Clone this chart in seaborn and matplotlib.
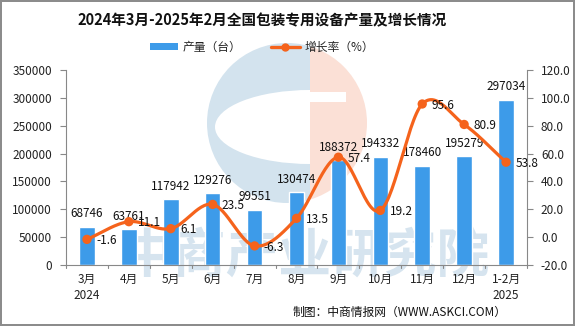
import numpy as np
import pandas as pd
import matplotlib
matplotlib.use("Agg")
import matplotlib.pyplot as plt
from matplotlib.patches import Circle, Ellipse, Rectangle
from matplotlib.lines import Line2D
import seaborn as sns

# Monthly output of packaging machinery and year-on-year growth
months = ["3月\n2024", "4月", "5月", "6月", "7月", "8月", "9月", "10月", "11月", "12月", "1-2月\n2025"]
output_units = [68746, 63761, 117942, 129276, 99551, 130474, 188372, 194332, 178460, 195279, 297034]
growth_pct = [-1.6, 11.1, 6.1, 23.5, -6.3, 13.5, 57.4, 19.2, 95.6, 80.9, 53.8]
left_ticks = [0, 50000, 100000, 150000, 200000, 250000, 300000, 350000]
right_ticks = [-20, 0, 20, 40, 60, 80, 100, 120]

BAR_BLUE = "#3d9be9"
LINE_ORANGE = "#f5631c"

sns.set_theme(style="white")
plt.rcParams["font.family"] = ["Noto Sans CJK SC", "DejaVu Sans"]

W, H = 575, 326
fig = plt.figure(figsize=(W / 100, H / 100), dpi=100)
fig.patch.set_facecolor("white")
fig.patch.set_edgecolor("#8c8c8c")
fig.patch.set_linewidth(1.5)


def px(x, y):
    return x / W, 1 - y / H


# background logo and watermark
wm = fig.add_axes([0, 0, 1, 1], zorder=0)
wm.set_xlim(0, W)
wm.set_ylim(H, 0)
wm.axis("off")
cx, cy, r, split = 287, 123, 80, 310
blue_half = Circle((cx, cy), r, facecolor="#d3e3ee", lw=0)
wm.add_patch(blue_half)
blue_half.set_clip_path(Rectangle((0, 0), split, H, transform=wm.transData))
orange_half = Circle((cx, cy), r, facecolor="#fbe0d6", lw=0)
wm.add_patch(orange_half)
orange_half.set_clip_path(Rectangle((split, 0), W - split, H, transform=wm.transData))
inner = Ellipse((split, 127), 190, 74, facecolor="white", lw=0)
wm.add_patch(inner)
inner.set_clip_path(Rectangle((0, 0), split, H, transform=wm.transData))
wm.add_patch(Rectangle((split, 92), 36, 10, facecolor="white", lw=0))
wm.text(305, 256, "中商产业研究院", fontsize=38, color="#c9dcea", alpha=0.75,
        ha="center", va="center", fontweight="bold")

x0, y0 = px(66, 265)
x1, y1 = px(527, 70)
ax = fig.add_axes([x0, y0, x1 - x0, y1 - y0], zorder=2)
ax.patch.set_alpha(0)

df = pd.DataFrame({"month": months, "output": output_units, "growth": growth_pct})
sns.barplot(data=df, x="month", y="output", color=BAR_BLUE, saturation=1,
            width=0.37, ax=ax, zorder=2)

ax.set_ylim(0, 350000)
ax.set_xlim(-0.5, len(months) - 0.5)
ax.set_yticks(left_ticks)
ax.set_yticklabels([str(v) for v in left_ticks], fontsize=8.5, color="#222222")
ax.set_xticks(range(len(months)))
ax.set_xticklabels(months, fontsize=8.5, color="#222222", linespacing=1.3)
ax.tick_params(axis="x", length=0, pad=6)
ax.tick_params(axis="y", length=4, width=0.8, color="#888888", left=True, pad=6)
ax.set_xlabel("")
ax.set_ylabel("")
for side in ["top", "right"]:
    ax.spines[side].set_visible(False)
for side in ["left", "bottom"]:
    ax.spines[side].set_color("#888888")
    ax.spines[side].set_linewidth(0.8)

# category separator ticks on the x axis
for b in np.arange(-0.5, len(months), 1.0):
    ax.plot([b, b], [0, -6000], color="#888888", lw=0.8, clip_on=False, zorder=3)

for i, v in enumerate(output_units):
    ax.text(i, v + 23000, str(v), ha="center", va="center", fontsize=8.5, color="#111111", zorder=5)

ax2 = ax.twinx()
ax2.set_zorder(3)
ax2.set_ylim(-20, 120)
ax2.set_yticks(right_ticks)
ax2.set_yticklabels([f"{v:.1f}" for v in right_ticks], fontsize=8.5, color="#222222")
ax2.tick_params(axis="y", length=4, width=0.8, color="#888888", right=True, pad=6)
for side in ["top", "left", "bottom"]:
    ax2.spines[side].set_visible(False)
ax2.spines["right"].set_color("#888888")
ax2.spines["right"].set_linewidth(0.8)


def catmull_rom(xs, ys, n=30):
    xs = np.asarray(xs, float)
    ys = np.asarray(ys, float)
    px_ = np.concatenate([[2 * xs[0] - xs[1]], xs, [2 * xs[-1] - xs[-2]]])
    py_ = np.concatenate([[2 * ys[0] - ys[1]], ys, [2 * ys[-1] - ys[-2]]])
    out_x, out_y = [], []
    t = np.linspace(0, 1, n)
    for k in range(1, len(px_) - 2):
        p0, p1, p2, p3 = [np.array([px_[j], py_[j]]) for j in (k - 1, k, k + 1, k + 2)]
        seg = 0.5 * ((2 * p1)[:, None] + (-p0 + p2)[:, None] * t
                     + (2 * p0 - 5 * p1 + 4 * p2 - p3)[:, None] * t ** 2
                     + (-p0 + 3 * p1 - 3 * p2 + p3)[:, None] * t ** 3)
        out_x.extend(seg[0])
        out_y.extend(seg[1])
    return np.array(out_x), np.array(out_y)


xi = np.arange(len(growth_pct))
sx, sy = catmull_rom(xi, growth_pct)
ax2.plot(sx, sy, color=LINE_ORANGE, lw=2.3, solid_capstyle="round", zorder=4)
sns.scatterplot(x=xi, y=growth_pct, color=LINE_ORANGE, s=45, edgecolor="none", ax=ax2, zorder=5, legend=False)
for i, v in enumerate(growth_pct):
    ax2.text(i + 0.22, v - 0.8, f"{v:.1f}", ha="left", va="center", fontsize=8.5, color="#111111", zorder=6)

fig.text(*px(262, 20), "2024年3月-2025年2月全国包装专用设备产量及增长情况",
         ha="center", va="center", fontsize=10.5, fontweight="bold", color="#111111")

handles = [Rectangle((0, 0), 1, 1, facecolor=BAR_BLUE, lw=0),
           Line2D([0], [0], color=LINE_ORANGE, lw=2.4, marker="o", markersize=5)]
fig.legend(handles, ["产量（台）", "增长率（%）"], loc="center", bbox_to_anchor=px(262, 47),
           ncol=2, frameon=False, fontsize=8.5, handlelength=2.4, handleheight=0.6,
           columnspacing=2.5, handletextpad=0.4)

fig.text(*px(507, 312), "制图：中商情报网（WWW.ASKCI.COM）", ha="right", va="center",
         fontsize=8.5, color="#111111")

fig.savefig("out.png", dpi=100, facecolor=fig.get_facecolor(), edgecolor=fig.get_edgecolor())
